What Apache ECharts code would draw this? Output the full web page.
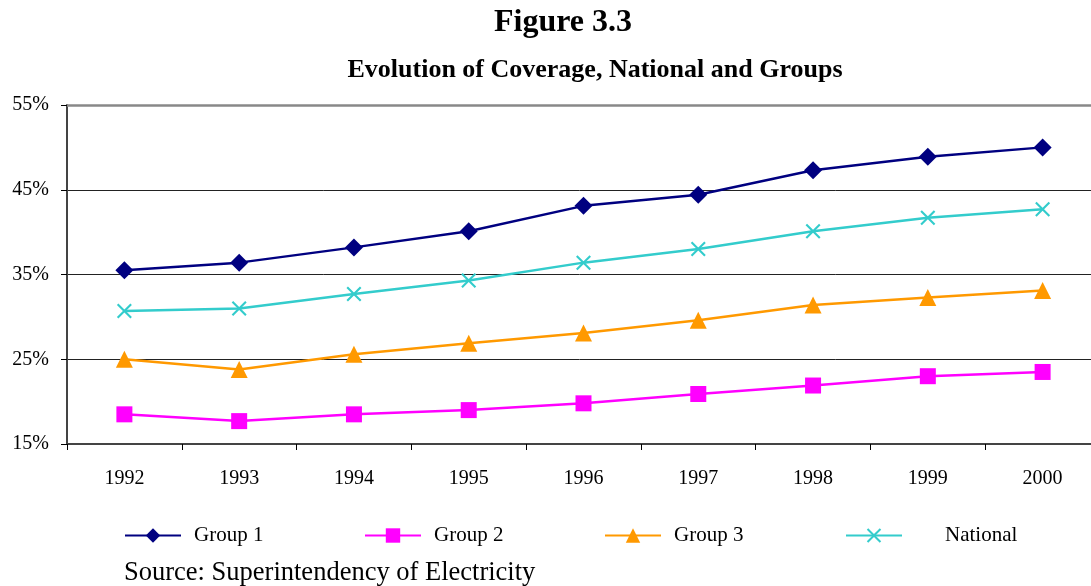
<!DOCTYPE html>
<html>
<head>
<meta charset="utf-8">
<script src="https://cdn.jsdelivr.net/npm/echarts@6/dist/echarts.min.js"></script>
<style>
  html, body { margin: 0; padding: 0; background: #fff; }
  #chart { width: 1091px; height: 586px; }
</style>
</head>
<body>
<div id="chart"></div>
<script>
var years = ['1992', '1993', '1994', '1995', '1996', '1997', '1998', '1999', '2000'];
var group1 = [35.5, 36.4, 38.2, 40.1, 43.1, 44.4, 47.3, 48.9, 50.0];
var group2 = [18.5, 17.7, 18.5, 19.0, 19.8, 20.9, 21.9, 23.0, 23.5];
var group3 = [25.0, 23.8, 25.6, 26.9, 28.1, 29.6, 31.4, 32.3, 33.1];
var national = [30.7, 31.0, 32.7, 34.3, 36.4, 38.0, 40.1, 41.7, 42.7];

var serif = '"Liberation Serif", "DejaVu Serif", serif';
// filled X shape for the National marker
var crossPath = 'path://M0,1L1,0L5,4L9,0L10,1L6,5L10,9L9,10L5,6L1,10L0,9L4,5Z';

function mkSeries(name, data, color, symbol, size) {
  return {
    name: name,
    type: 'line',
    data: data,
    symbol: symbol,
    symbolSize: size,
    showAllSymbol: true,
    lineStyle: { color: color, width: 2.5 },
    itemStyle: { color: color },
    animation: false
  };
}

function mkLegend(name, left, textPad) {
  return {
    left: left,
    top: 525,
    padding: 0,
    itemWidth: 56,
    itemHeight: 18,
    itemGap: 0,
    data: [name],
    textStyle: { fontFamily: serif, fontSize: 21, color: '#000', padding: [0, 0, 0, textPad] }
  };
}

var chart = echarts.init(document.getElementById('chart'));
chart.setOption({
  backgroundColor: '#fff',
  title: [{
    text: 'Figure 3.3',
    left: 563,
    textAlign: 'center',
    top: 7,
    padding: 0,
    textStyle: { fontFamily: serif, fontSize: 32, fontWeight: 'bold', color: '#000' }
  }, {
    text: 'Evolution of Coverage, National and Groups',
    left: 595,
    textAlign: 'center',
    top: 57,
    padding: 0,
    textStyle: { fontFamily: serif, fontSize: 26, fontWeight: 'bold', color: '#000' }
  }, {
    text: 'Source: Superintendency of Electricity',
    left: 124,
    top: 560,
    padding: 0,
    textStyle: { fontFamily: serif, fontSize: 26.5, fontWeight: 'normal', color: '#000' }
  }],
  legend: [
    mkLegend('Group 1', 124, 8),
    mkLegend('Group 2', 364, 8),
    mkLegend('Group 3', 604, 8),
    mkLegend('National', 845, 38)
  ],
  // plot area runs past the right edge of the picture
  grid: { left: 67, width: 1033, top: 105, bottom: 142, outerBoundsMode: 'none' },
  xAxis: {
    type: 'category',
    data: years,
    boundaryGap: true,
    axisLine: { lineStyle: { color: '#444', width: 2 } },
    axisTick: { show: true, length: 6, lineStyle: { color: '#000', width: 1 } },
    axisLabel: { fontFamily: serif, fontSize: 20, color: '#000', margin: 25 },
    splitLine: { show: false }
  },
  yAxis: {
    type: 'value',
    min: 15,
    max: 55,
    interval: 10,
    axisLine: { show: true, lineStyle: { color: '#444', width: 2 } },
    axisTick: { show: true, length: 6, lineStyle: { color: '#000', width: 1 } },
    axisLabel: { fontFamily: serif, fontSize: 20, color: '#000', margin: 18,
      formatter: function (v) { return v + '%'; } },
    splitLine: { show: true, lineStyle: { color: '#222', width: 1 } }
  },
  series: [
    mkSeries('Group 1', group1, '#000080', 'diamond', 18),
    mkSeries('Group 2', group2, '#FF00FF', 'rect', 16),
    mkSeries('Group 3', group3, '#FF9900', 'triangle', 17),
    mkSeries('National', national, '#33CCCC', crossPath, 15),
    {
      // grey top border of the plot area at 55%
      type: 'line',
      data: [],
      markLine: {
        silent: true,
        symbol: 'none',
        label: { show: false },
        lineStyle: { color: '#888', width: 2.5, type: 'solid' },
        data: [{ yAxis: 55 }]
      },
      animation: false
    }
  ]
});
</script>
</body>
</html>
